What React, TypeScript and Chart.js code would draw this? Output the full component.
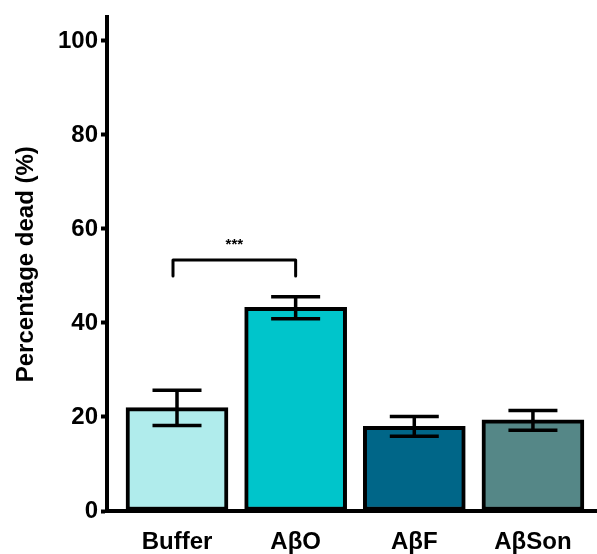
import React, { useEffect, useRef } from "react";
import { Chart, registerables } from "chart.js";

Chart.register(...registerables);

const categories = ["Buffer", "AβO", "AβF", "AβSon"];
const values = [22.0, 43.3, 18.0, 19.4];
const errLow = [18.2, 40.9, 15.9, 17.2];
const errHigh = [25.7, 45.6, 20.1, 21.4];
const barColors = ["#b0ecec", "#00c5cb", "#006688", "#558787"];
const yTicks = [0, 20, 40, 60, 80, 100];
const bracketFrom = 0;
const bracketTo = 1;
const bracketTop = 53.4;
const bracketBottom = 50.0;
const bracketLabel = "***";
const bracketLabelValue = 57.2;

const FONT = "'Liberation Sans', Arial, sans-serif";
const X_MIN = -0.59;
const X_MAX = 3.54;

const annotatePlugin = {
  id: "annotate",
  afterDatasetsDraw(chart: any) {
    const ctx = chart.ctx;
    const xs = chart.scales.x;
    const ys = chart.scales.y;
    ctx.save();
    ctx.strokeStyle = "#000";
    ctx.lineWidth = 3.5;
    ctx.lineCap = "butt";
    for (let i = 0; i < categories.length; i++) {
      const x = xs.getPixelForValue(i);
      const lo = ys.getPixelForValue(errLow[i]);
      const hi = ys.getPixelForValue(errHigh[i]);
      ctx.beginPath();
      ctx.moveTo(x, lo);
      ctx.lineTo(x, hi);
      ctx.moveTo(x - 24.5, lo);
      ctx.lineTo(x + 24.5, lo);
      ctx.moveTo(x - 24.5, hi);
      ctx.lineTo(x + 24.5, hi);
      ctx.stroke();
    }
    // significance bracket
    const x1 = xs.getPixelForValue(bracketFrom) - 4;
    const x2 = xs.getPixelForValue(bracketTo);
    const yt = ys.getPixelForValue(bracketTop);
    const yb = ys.getPixelForValue(bracketBottom);
    ctx.lineWidth = 3;
    ctx.lineCap = "round";
    ctx.lineJoin = "round";
    ctx.beginPath();
    ctx.moveTo(x1, yb);
    ctx.lineTo(x1, yt);
    ctx.lineTo(x2, yt);
    ctx.lineTo(x2, yb);
    ctx.stroke();
    ctx.fillStyle = "#000";
    ctx.font = `bold 15px ${FONT}`;
    ctx.textAlign = "center";
    ctx.textBaseline = "middle";
    ctx.fillText(bracketLabel, (x1 + x2) / 2, ys.getPixelForValue(bracketLabelValue) + 3);
    ctx.restore();
  },
};

export default function App() {
  const ref = useRef<HTMLCanvasElement | null>(null);
  useEffect(() => {
    if (!ref.current) return;
    const chart = new Chart(ref.current, {
      type: "bar",
      data: {
        datasets: [
          {
            data: categories.map((_, i) => ({ x: i, y: values[i] })),
            backgroundColor: barColors,
            borderColor: "#000",
            borderWidth: 4,
            barThickness: 102,
            borderSkipped: false,
          } as any,
        ],
      },
      options: {
        responsive: false,
        animation: false,
        devicePixelRatio: 1,
        layout: { padding: { top: 15, left: 0, right: 0, bottom: 0 } },
        plugins: {
          legend: { display: false },
          tooltip: { enabled: false },
        },
        scales: {
          x: {
            type: "linear",
            offset: false,
            bounds: "ticks",
            min: X_MIN,
            max: X_MAX,
            afterDataLimits: (scale: any) => {
              scale.min = X_MIN;
              scale.max = X_MAX;
            },
            afterBuildTicks: (scale: any) => {
              scale.ticks = categories.map((_, i) => ({ value: i }));
            },
            afterFit: (scale: any) => {
              scale.height = 43;
            },
            ticks: {
              autoSkip: false,
              maxRotation: 0,
              minRotation: 0,
              padding: 17,
              color: "#000",
              font: { family: FONT, size: 24, weight: "bold" },
              callback: (v: any) => categories[Number(v)] ?? "",
            },
            grid: { display: false, drawTicks: false },
            border: { display: true, color: "#000", width: 4 },
          },
          y: {
            min: 0,
            max: 105,
            afterBuildTicks: (scale: any) => {
              scale.ticks = yTicks.map((v) => ({ value: v }));
            },
            afterFit: (scale: any) => {
              scale.width = 107;
            },
            ticks: {
              padding: 3,
              color: "#000",
              font: { family: FONT, size: 24, weight: "bold" },
            },
            grid: {
              drawOnChartArea: false,
              tickLength: 6,
              tickWidth: 4,
              tickColor: "#000",
              color: "#000",
            },
            border: { display: true, color: "#000", width: 4 },
            title: {
              display: true,
              text: "Percentage dead (%)",
              color: "#000",
              font: { family: FONT, size: 24, weight: "bold" },
              padding: { top: 12, bottom: 0 },
            },
          },
        },
      },
      plugins: [annotatePlugin],
    });
    return () => chart.destroy();
  }, []);
  return (
    <div style={{ position: "absolute", left: 0, top: 0, width: 597, height: 554, background: "#fff" }}>
      <canvas ref={ref} width={597} height={554} style={{ width: 597, height: 554 }} />
    </div>
  );
}
